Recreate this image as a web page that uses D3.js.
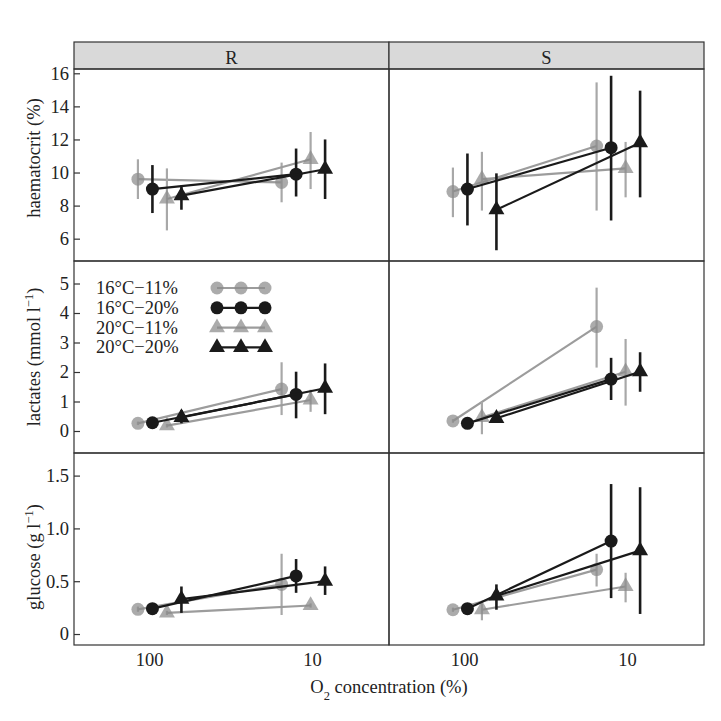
<!DOCTYPE html>
<html><head><meta charset="utf-8">
<script src="https://cdn.jsdelivr.net/npm/d3@7"></script>
<style>body{margin:0;background:#fff}text{font-family:"Liberation Serif","Times New Roman",serif;fill:#222}</style>
</head><body>
<script>
// ---------- data ----------
const groups = ["16°C−11%", "16°C−20%", "20°C−11%", "20°C−20%"];
const strains = ["R", "S"];
const o2Levels = [86, 11.3];          // O2 concentration (%) for the two exposures
const xTicks = [100, 10];
const hctTicks = [6, 8, 10, 12, 14, 16];
const lacTicks = [0, 1, 2, 3, 4, 5];
const gluTicks = [0, 0.5, 1.0, 1.5];

// haematocrit (%) : [group][o2 level]
const hctR_mean = [[9.6, 9.4], [9.0, 9.9], [8.4, 10.8], [8.6, 10.2]];
const hctR_lo   = [[8.4, 8.2], [7.55, 8.55], [6.5, 9.0], [7.75, 8.4]];
const hctR_hi   = [[10.8, 10.6], [10.45, 11.45], [10.25, 12.45], [9.2, 12.0]];
const hctS_mean = [[8.85, 11.6], [9.0, 11.5], [9.6, 10.25], [7.75, 11.8]];
const hctS_lo   = [[7.3, 7.7], [6.8, 7.1], [7.7, 8.5], [5.3, 8.5]];
const hctS_hi   = [[10.3, 15.45], [11.15, 15.85], [11.25, 11.85], [9.95, 14.95]];
// lactates (mmol l-1)
const lacR_mean = [[0.26, 1.42], [0.28, 1.24], [0.18, 1.05], [0.46, 1.45]];
const lacR_lo   = [[0.2, 0.54], [0.22, 0.43], [0.12, 0.65], [0.26, 0.57]];
const lacR_hi   = [[0.32, 2.33], [0.34, 2.01], [0.24, 1.4], [0.71, 2.29]];
const lacS_mean = [[0.34, 3.54], [0.26, 1.76], [0.46, 2.01], [0.43, 2.01]];
const lacS_lo   = [[0.28, 2.15], [0.2, 1.05], [-0.11, 0.86], [0.37, 1.33]];
const lacS_hi   = [[0.4, 4.86], [0.32, 2.48], [0.99, 3.12], [0.49, 2.67]];
// glucose (g l-1)
const gluR_mean = [[0.234, 0.47], [0.24, 0.55], [0.2, 0.27], [0.33, 0.5]];
const gluR_lo   = [[0.21, 0.18], [0.22, 0.39], [0.18, 0.25], [0.2, 0.37]];
const gluR_hi   = [[0.26, 0.76], [0.26, 0.71], [0.22, 0.29], [0.45, 0.64]];
const gluS_mean = [[0.23, 0.61], [0.24, 0.88], [0.23, 0.45], [0.36, 0.79]];
const gluS_lo   = [[0.21, 0.45], [0.22, 0.34], [0.13, 0.3], [0.23, 0.19]];
const gluS_hi   = [[0.25, 0.76], [0.26, 1.42], [0.29, 0.58], [0.47, 1.39]];

// ---------- layout ----------
const W = 721, H = 721;
const left = 74, colW = 315, stripTop = 42, stripH = 27, panelTop = 69, panelH = 192;
const dodge = 14.5;
const fs = 18.5;
const grey = "#8a8a8a", black = "#1a1a1a";
const isBlack = [false, true, false, true];
const isTri = [false, false, true, true];

const rows = [
  {label: ["haematocrit (%)"], domain: [4.65, 16.26], ticks: hctTicks, fmt: d => d,
   mean: [hctR_mean, hctS_mean], lo: [hctR_lo, hctS_lo], hi: [hctR_hi, hctS_hi], labelY: 158},
  {label: ["lactates (mmol l", "−1", ")"], domain: [-0.746, 5.763], ticks: lacTicks, fmt: d => d,
   mean: [lacR_mean, lacS_mean], lo: [lacR_lo, lacS_lo], hi: [lacR_hi, lacS_hi], labelY: 357},
  {label: ["glucose (g l", "−1", ")"], domain: [-0.104, 1.714], ticks: gluTicks, fmt: d => d === 0 ? "0" : d3.format(".1f")(d),
   mean: [gluR_mean, gluS_mean], lo: [gluR_lo, gluS_lo], hi: [gluR_hi, gluS_hi], labelY: 557}
];

const svg = d3.select("body").append("svg").attr("width", W).attr("height", H);
svg.append("rect").attr("width", W).attr("height", H).attr("fill", "#fff");

// x scale (log, reversed), shared by both columns (relative to panel)
const x = d3.scaleLog().domain([100, 10]).range([75, 238]);

// strips
strains.forEach((s, c) => {
  const g = svg.append("g").attr("transform", `translate(${left + c * colW},${stripTop})`);
  g.append("rect").attr("width", colW).attr("height", stripH).attr("fill", "#d9d9d9")
    .attr("stroke", "#333").attr("stroke-width", 1.2);
  g.append("text").attr("x", colW / 2).attr("y", 21.5).attr("text-anchor", "middle")
    .attr("font-size", fs).text(s);
});

const symTri = d3.symbol().type(d3.symbolTriangle).size(110);

rows.forEach((row, r) => {
  const y = d3.scaleLinear().domain(row.domain).range([panelH, 0]);
  strains.forEach((s, c) => {
    const g = svg.append("g").attr("transform", `translate(${left + c * colW},${panelTop + r * panelH})`);
    [0, 2, 1, 3].forEach(k => {
      const col = isBlack[k] ? black : grey;
      const pts = o2Levels.map((o, i) => ({
        px: x(o) + (k - 1.5) * dodge,
        m: row.mean[c][k][i], lo: row.lo[c][k][i], hi: row.hi[c][k][i]
      }));
      const gg = g.append("g");
      gg.selectAll("line.err").data(pts).join("line")
        .attr("x1", d => d.px).attr("x2", d => d.px)
        .attr("y1", d => y(d.lo)).attr("y2", d => y(d.hi))
        .attr("stroke", isBlack[k] ? black : "#a8a8a8")
        .attr("stroke-width", isBlack[k] ? 2.6 : 2.2);
      gg.append("path").datum(pts)
        .attr("d", d3.line().x(d => d.px).y(d => y(d.m)))
        .attr("fill", "none").attr("stroke", isBlack[k] ? black : "#9c9c9c")
        .attr("stroke-width", 2.2);
      if (isTri[k]) {
        gg.selectAll("path.sym").data(pts).join("path").attr("class", "sym")
          .attr("d", symTri).attr("transform", d => `translate(${d.px},${y(d.m)})`)
          .attr("fill", col).attr("fill-opacity", isBlack[k] ? 1 : 0.72);
      } else {
        gg.selectAll("circle").data(pts).join("circle")
          .attr("cx", d => d.px).attr("cy", d => y(d.m)).attr("r", 6.5)
          .attr("fill", col).attr("fill-opacity", isBlack[k] ? 1 : 0.72);
      }
    });
    // frame
    g.append("rect").attr("width", colW).attr("height", panelH).attr("fill", "none")
      .attr("stroke", "#333").attr("stroke-width", 1.2);
    if (c === 0) {
      const ax = g.append("g").call(d3.axisLeft(y).tickValues(row.ticks).tickFormat(row.fmt)
        .tickSizeInner(-6).tickSizeOuter(0).tickPadding(5));
      ax.select(".domain").remove();
      ax.selectAll("line").attr("stroke", "#333").attr("stroke-width", 1.2);
      ax.selectAll("text").attr("font-size", fs).attr("font-family", "Liberation Serif").attr("fill", "#222");
    }
    if (r === rows.length - 1) {
      const ax = g.append("g").attr("transform", `translate(0,${panelH})`)
        .call(d3.axisBottom(x).tickValues(xTicks).tickFormat(d3.format("d")).tickSize(0).tickPadding(8));
      ax.select(".domain").remove();
      ax.selectAll("text").attr("font-size", fs).attr("font-family", "Liberation Serif").attr("fill", "#222");
    }
  });
  // y label
  const t = svg.append("text").attr("transform", `translate(40,${row.labelY}) rotate(-90)`)
    .attr("text-anchor", "middle").attr("font-size", fs);
  t.append("tspan").text(row.label[0]);
  if (row.label.length > 1) {
    t.append("tspan").attr("baseline-shift", "super").attr("font-size", 12.5).text(row.label[1]);
    t.append("tspan").text(row.label[2]);
  }
});

// x title
const xt = svg.append("text").attr("x", 389).attr("y", 693).attr("text-anchor", "middle").attr("font-size", fs);
xt.append("tspan").text("O");
xt.append("tspan").attr("baseline-shift", "sub").attr("font-size", 12.5).text("2");
xt.append("tspan").text(" concentration (%)");

// legend (inside middle-left panel)
const lg = svg.append("g");
const legX = [217, 241, 265];
groups.forEach((name, k) => {
  const cy = 288 + k * 19.8;
  lg.append("text").attr("x", 96).attr("y", cy + 6).attr("font-size", fs).text(name);
  const col = isBlack[k] ? black : grey;
  lg.append("line").attr("x1", legX[0]).attr("x2", legX[2]).attr("y1", cy).attr("y2", cy)
    .attr("stroke", isBlack[k] ? black : "#9c9c9c").attr("stroke-width", 2.2);
  legX.forEach(lx => {
    if (isTri[k]) {
      lg.append("path").attr("d", symTri).attr("transform", `translate(${lx},${cy})`)
        .attr("fill", col).attr("fill-opacity", isBlack[k] ? 1 : 0.72);
    } else {
      lg.append("circle").attr("cx", lx).attr("cy", cy).attr("r", 6.5)
        .attr("fill", col).attr("fill-opacity", isBlack[k] ? 1 : 0.72);
    }
  });
});
</script>
</body></html>
